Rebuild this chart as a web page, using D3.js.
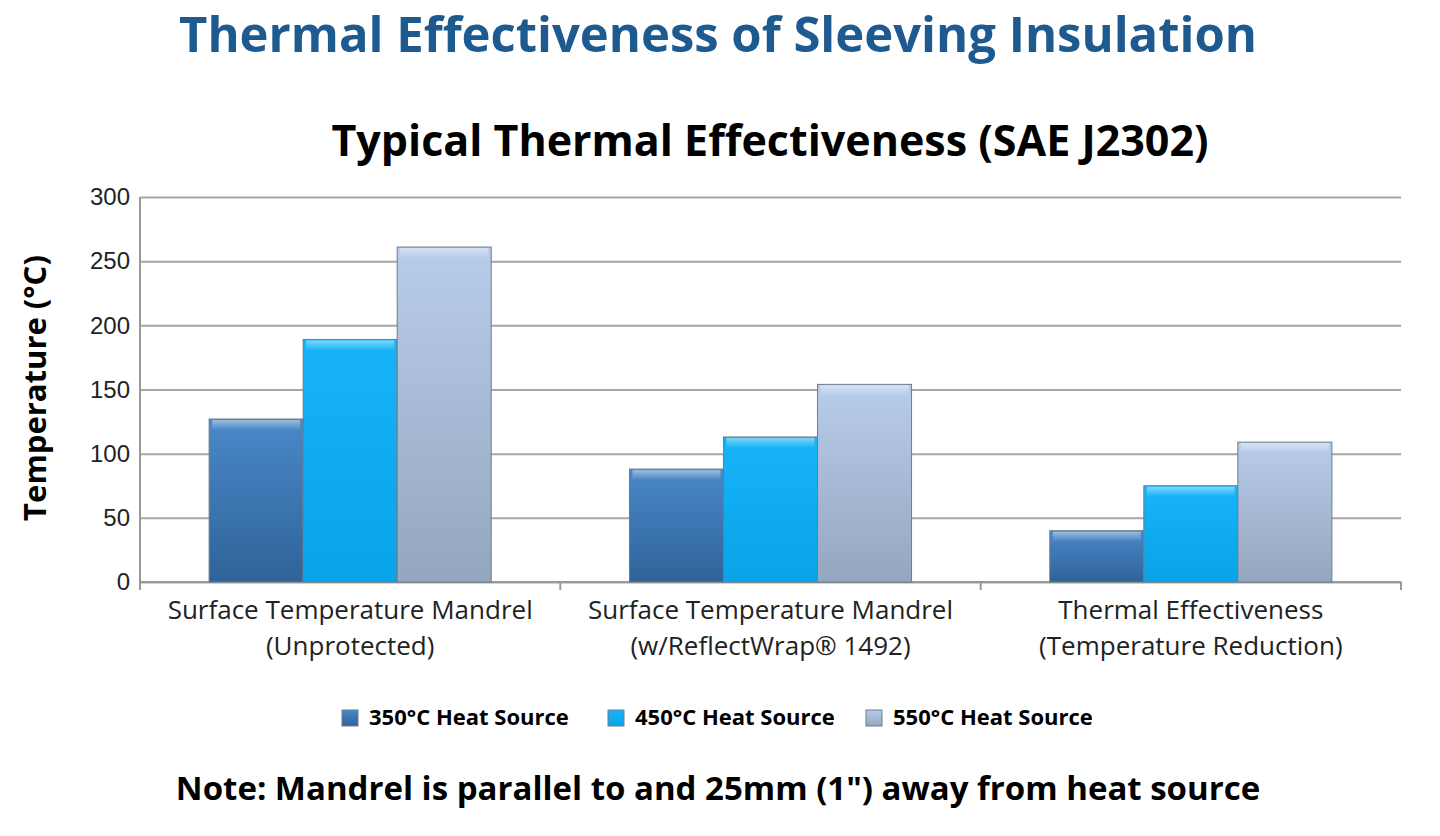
<!DOCTYPE html>
<html><head><meta charset="utf-8">
<script src="https://cdn.jsdelivr.net/npm/d3@7"></script>
<style>body{margin:0;background:#fff;font-family:"Open Sans",sans-serif}</style>
</head><body><svg id="c" width="1440" height="836"></svg>
<script>
const categories = ["Surface Temperature Mandrel|(Unprotected)","Surface Temperature Mandrel|(w/ReflectWrap® 1492)","Thermal Effectiveness|(Temperature Reduction)"];
const seriesNames = ["350°C Heat Source","450°C Heat Source","550°C Heat Source"];
const s350 = [127, 88, 40];
const s450 = [189, 113, 75];
const s550 = [261, 154, 109];
const yTicks = [0,50,100,150,200,250,300];
const series = [s350, s450, s550];
const colors = [["#4a88c8","#2f6399"],["#16b4f7","#0aa3e8"],["#b8cdea","#95a6bf"]];

const svg = d3.select("#c");
const defs = svg.append("defs");
colors.forEach((c,i)=>{
  const g = defs.append("linearGradient").attr("id","g"+i).attr("x1",0).attr("y1",0).attr("x2",0).attr("y2",1);
  g.append("stop").attr("offset","0%").attr("stop-color",c[0]);
  g.append("stop").attr("offset","100%").attr("stop-color",c[1]);
});
const hl = defs.append("linearGradient").attr("id","hl").attr("x1",0).attr("y1",0).attr("x2",0).attr("y2",1);
hl.append("stop").attr("offset","0%").attr("stop-color","#fff").attr("stop-opacity",0.45);
hl.append("stop").attr("offset","100%").attr("stop-color","#fff").attr("stop-opacity",0);
const L=140,R=1401,T=197,B=582;
const x = d3.scaleBand().domain(d3.range(3)).range([L,R]).paddingInner(0).paddingOuter(0);
const xs = d3.scaleBand().domain(d3.range(3)).range([0,x.bandwidth()]).paddingInner(0).paddingOuter(0.735);
const y = d3.scaleLinear().domain([0,300]).range([B,T]);

svg.append("text").attr("x",718).attr("y",52).attr("text-anchor","middle").attr("fill","#1d5a8f")
  .attr("font-size",49).attr("font-weight",700).text("Thermal Effectiveness of Sleeving Insulation");
svg.append("text").attr("x",770).attr("y",156).attr("text-anchor","middle").attr("fill","#000")
  .attr("font-size",43).attr("font-weight",700).text("Typical Thermal Effectiveness (SAE J2302)");

const ax = svg.append("g").attr("transform",`translate(${L},0)`)
  .call(d3.axisLeft(y).tickValues(yTicks).tickSize(-(R-L)).tickPadding(10));
ax.select(".domain").attr("stroke","#999");
ax.selectAll(".tick line").attr("stroke","#a6a6a6").attr("stroke-width",2);
ax.selectAll(".tick text").attr("font-size",24).attr("fill","#222");
svg.append("line").attr("x1",L).attr("x2",L).attr("y1",T).attr("y2",B).attr("stroke","#999").attr("stroke-width",2);
svg.append("line").attr("x1",L).attr("x2",R).attr("y1",B).attr("y2",B).attr("stroke","#999").attr("stroke-width",2);
[0,1,2,3].forEach(i=>{
  const xx = i<3 ? x(i) : R;
  svg.append("line").attr("x1",xx).attr("x2",xx).attr("y1",B).attr("y2",B+8).attr("stroke","#999").attr("stroke-width",2);
});
svg.append("text").attr("transform","translate(46,388) rotate(-90)").attr("text-anchor","middle")
  .attr("font-size",31).attr("font-weight",700).text("Temperature (°C)");

series.forEach((s,si)=>{
  svg.append("g").selectAll("rect").data(s).join("rect")
    .attr("x",(d,i)=>x(i)+xs(si)).attr("width",xs.bandwidth())
    .attr("y",d=>y(d)).attr("height",d=>B-y(d))
    .attr("fill",`url(#g${si})`).attr("stroke","#6d7c8c").attr("stroke-width",1);
  svg.append("g").selectAll("rect").data(s).join("rect")
    .attr("x",(d,i)=>x(i)+xs(si)+3).attr("width",xs.bandwidth()-6)
    .attr("y",d=>y(d)+1).attr("height",10)
    .attr("fill","url(#hl)");
});

categories.forEach((c,i)=>{
  const parts=c.split("|");
  const t=svg.append("text").attr("text-anchor","middle").attr("font-size",26).attr("fill","#222");
  parts.forEach((p,j)=>t.append("tspan").attr("x",x(i)+x.bandwidth()/2).attr("y",619+j*36).text(p));
});

const lx=[342,608,866];
seriesNames.forEach((n,i)=>{
  svg.append("rect").attr("x",lx[i]).attr("y",710).attr("width",16).attr("height",16).attr("fill",`url(#g${i})`).attr("stroke","#6d7c8c");
  svg.append("text").attr("x",lx[i]+27).attr("y",725).attr("font-size",22).attr("font-weight",700).text(n);
});
svg.append("text").attr("x",718).attr("y",800).attr("text-anchor","middle").attr("font-size",33).attr("font-weight",700)
  .text('Note: Mandrel is parallel to and 25mm (1") away from heat source');
</script></body></html>
